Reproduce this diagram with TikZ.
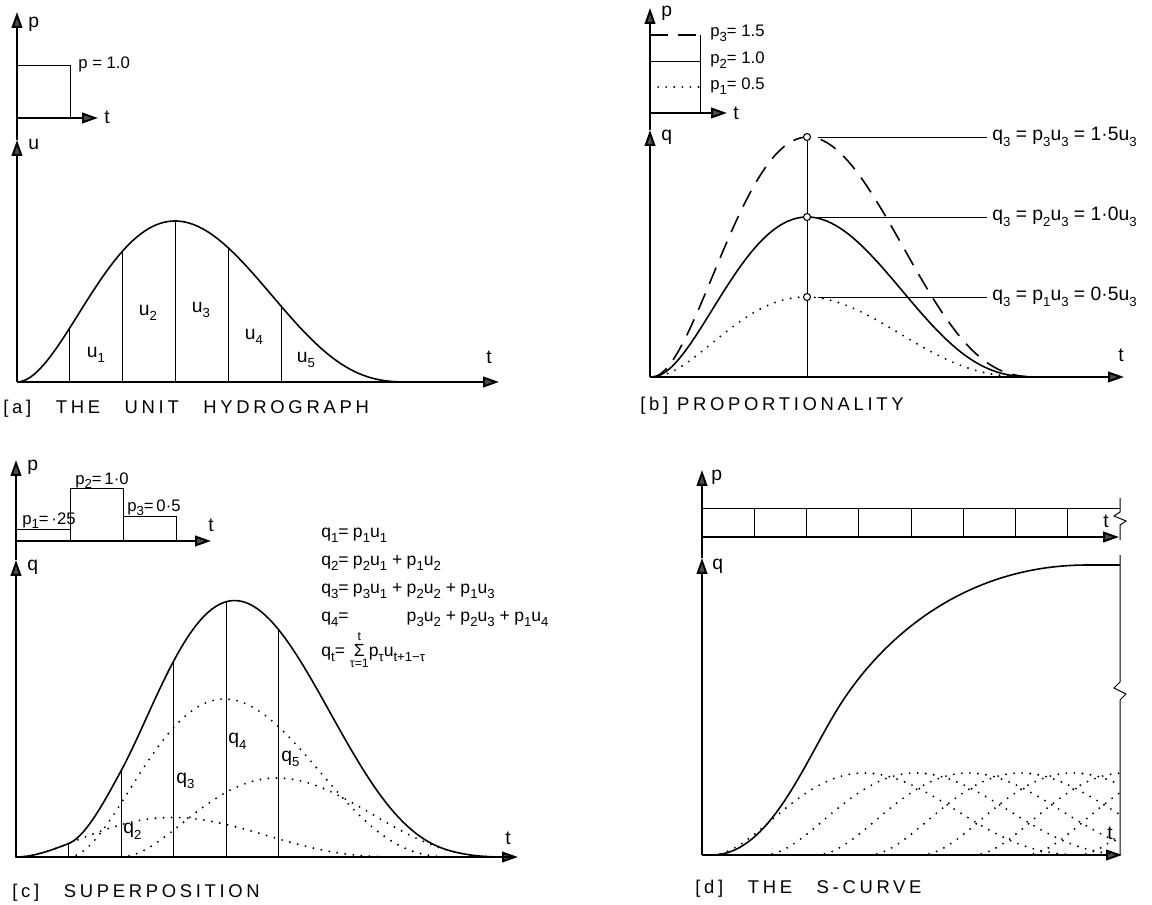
\documentclass[tikz,border=0pt]{standalone}
\usepackage{fontspec}
\setmainfont{Liberation Sans}
\usetikzlibrary{arrows.meta}
\newcommand{\lo}[1]{\raisebox{-0.55ex}{\fontsize{7.5}{8}\selectfont #1}}
\newcommand{\limtxt}[1]{\hbox{\fontsize{7}{8}\selectfont #1}}

\begin{document}
\begin{tikzpicture}[
			x=0.02cm, y=-0.02cm,
			declare function={
				cl(\s)=min(max(\s,0),1);
				uh(\s)=(cl(\s)/0.4)^2*((1-cl(\s))/0.6)^3;
				qc(\x)=0.25*uh((\x-16)/390)+uh((\x-68.5)/390)+0.5*uh((\x-121)/390);
			},
			axisline/.style={line width=1.1pt, -{Triangle[length=9pt, width=6pt, fill=black!70]}},
			hydro/.style={line width=0.9pt},
			ordinate/.style={line width=0.55pt},
			dotcurve/.style={line width=1.2pt, line cap=round, dash pattern=on 0pt off 4.6pt},
			dashcurve/.style={line width=0.9pt, dash pattern=on 10pt off 6pt},
			lab/.style={font=\fontsize{11}{13}\selectfont, inner sep=0pt},
			labsm/.style={font=\fontsize{9.5}{11}\selectfont, inner sep=0pt},
			eqn/.style={font=\fontsize{10}{12}\selectfont, inner sep=0pt, anchor=base west},
			captxt/.style={font=\fontsize{10.5}{12}\selectfont\addfontfeature{LetterSpace=20}, anchor=base west, inner sep=0pt},
			peakdot/.style={circle, draw, fill=white, line width=0.6pt, inner sep=0pt, minimum size=4pt}
			]
			\useasboundingbox (0,0) rectangle (1152,905);
			
			% (a) unit hydrograph
			\coordinate (a-o) at (17,382);
			\coordinate (a-u) at (17,140);
			\coordinate (a-p) at (17,12);
			\coordinate (a-po) at (17,118);
			\coordinate (a-pt) at (98,118);
			\coordinate (a-t) at (499,382);
			\draw[ordinate] (17,65) -| (70,118);
			\draw[axisline] (a-o) -- (a-u);
			\draw[axisline] (a-u) -- (a-p);
			\draw[axisline] (a-po) -- (a-pt);
			\draw[axisline] (a-o) -- (a-t);
			\node[lab, anchor=west] (a-plab) at (28,24) {p};
			\node[lab, anchor=west] (a-ulab) at (28,144) {u};
			\node[lab, anchor=west] (a-tlab) at (104,117) {t};
			\node[labsm, anchor=west] (a-pval) at (78,64) {p = 1.0};
			\node[lab] (a-tend) at (489,357) {t};
			\draw[hydro] plot[domain=0:1, samples=90] ({17+395*\x},{382-161*uh(\x)});
			\foreach \k in {1,...,5}
				\draw[ordinate] ({16+53*\k},382) -- ({16+53*\k},{382-161*uh((53*\k-1)/395)});
			\node[lab] (a-u1) at (96,355) {u\lo{1}};
			\node[lab] (a-u2) at (148,313) {u\lo{2}};
			\node[lab] (a-u3) at (201,310) {u\lo{3}};
			\node[lab] (a-u4) at (254,337) {u\lo{4}};
			\node[lab] (a-u5) at (306,360) {u\lo{5}};
			\node[captxt] (a-cap) at (3,413) {[a]\hspace{14pt}THE\hspace{14pt}UNIT\hspace{14pt}HYDROGRAPH};
			
			% (b) proportionality
			\coordinate (b-o) at (650,377);
			\coordinate (b-q) at (650,130);
			\coordinate (b-p) at (650,8);
			\coordinate (b-po) at (650,113);
			\coordinate (b-pt) at (727,113);
			\coordinate (b-t) at (1124,377);
			\coordinate (b-v) at (807,377);
			\draw[dashcurve] (650,35) -- (700,35);
			\draw[ordinate] (650,61) -- (700,61);
			\draw[dotcurve] (650,87) -- (700,87);
			\draw[ordinate] (700,35) -- (700,113);
			\draw[axisline] (b-o) -- (b-q);
			\draw[axisline] (b-q) -- (b-p);
			\draw[axisline] (b-po) -- (b-pt);
			\draw[axisline] (b-o) -- (b-t);
			\node[lab, anchor=west] (b-plab) at (661,13) {p};
			\node[lab, anchor=west] (b-qlab) at (661,137) {q};
			\node[lab, anchor=west] (b-tlab) at (733,113) {t};
			\node[lab] (b-tend) at (1121,355) {t};
			\node[labsm, anchor=west] (b-p3) at (710,33) {p\lo{3}= 1.5};
			\node[labsm, anchor=west] (b-p2) at (710,60) {p\lo{2}= 1.0};
			\node[labsm, anchor=west] (b-p1) at (710,86) {p\lo{1}= 0.5};
			\draw[dashcurve] plot[domain=0:1, samples=90] ({652+390*\x},{377-240*uh(\x)});
			\draw[hydro] plot[domain=0:1, samples=90] ({652+388*\x},{377-160*uh(\x)});
			\draw[dotcurve] plot[domain=0:1, samples=90] ({652+385*\x},{377-80*uh(\x)});
			\node[peakdot] (b-m3) at (807,137) {};
			\draw[ordinate] (b-v) -- (b-m3);
			\node[peakdot] (b-m2) at (807,217) {};
			\node[peakdot] (b-m1) at (807,297) {};
			\node[lab, anchor=west] (b-l3) at (992,137) {q\lo{3} = p\lo{3}u\lo{3} = 1·5u\lo{3}};
			\node[lab, anchor=west] (b-l2) at (992,217) {q\lo{3} = p\lo{2}u\lo{3} = 1·0u\lo{3}};
			\node[lab, anchor=west] (b-l1) at (992,297) {q\lo{3} = p\lo{1}u\lo{3} = 0·5u\lo{3}};
			\draw[ordinate, shorten <=4pt, shorten >=3pt] (b-m3) -- (b-l3.west);
			\draw[ordinate, shorten <=4pt, shorten >=3pt] (b-m2) -- (b-l2.west);
			\draw[ordinate, shorten <=4pt, shorten >=3pt] (b-m1) -- (b-l1.west);
			\node[captxt] (b-cap) at (640,410) {[b] PROPORTIONALITY};
			
			% (c) superposition
			\coordinate (c-o) at (16,857);
			\coordinate (c-q) at (16,560);
			\coordinate (c-p) at (16,460);
			\coordinate (c-po) at (16,541);
			\coordinate (c-pt) at (211,541);
			\coordinate (c-t) at (518,857);
			\draw[ordinate] (16,529) -- (70,529);
			\draw[ordinate] (70,541) |- (123,488) -- (123,541);
			\draw[ordinate] (123,516) -| (176,541);
			\draw[axisline] (c-o) -- (c-q);
			\draw[axisline] (c-q) -- (c-p);
			\draw[axisline] (c-po) -- (c-pt);
			\draw[axisline] (c-o) -- (c-t);
			\node[lab, anchor=west] (c-plab) at (27,467) {p};
			\node[lab, anchor=west] (c-qlab) at (27,567) {q};
			\node[lab, anchor=west] (c-tlab) at (208,525) {t};
			\node[lab] (c-tend) at (508,838) {t};
			\node[labsm, anchor=base west] (c-p1) at (22,524) {p\lo{1}=\,·25};
			\node[labsm, anchor=base west] (c-p2) at (75,484) {p\lo{2}=\,1·0};
			\node[labsm, anchor=base west] (c-p3) at (127,511) {p\lo{3}=\,0·5};
			\draw[dotcurve] plot[domain=16:406, samples=70] (\x,{857-39.5*uh((\x-16)/390)});
			\draw[dotcurve] plot[domain=68.5:458.5, samples=70] (\x,{857-158*uh((\x-68.5)/390)});
			\draw[dotcurve] plot[domain=121:511, samples=70] (\x,{857-79*uh((\x-121)/390)});
			\draw[hydro] plot[domain=16:511, samples=120] (\x,{857-158*qc(\x)});
			\foreach \k in {1,...,5}
				\draw[ordinate] ({16+52.5*\k},857) -- ({16+52.5*\k},{857-158*qc(16+52.5*\k)});
			\node[lab, anchor=west] (c-q2) at (123,831) {q\lo{2}};
			\node[lab, anchor=west] (c-q3) at (176,781) {q\lo{3}};
			\node[lab, anchor=west] (c-q4) at (228,741) {q\lo{4}};
			\node[lab, anchor=west] (c-q5) at (281,759) {q\lo{5}};
			% equations
			\node[eqn] (c-e1) at (321,537) {\makebox[18pt][l]{q\lo{1}=}p\lo{1}u\lo{1}};
			\node[eqn] (c-e2) at (321,565) {\makebox[18pt][l]{q\lo{2}=}\makebox[30.6pt][l]{p\lo{2}u\lo{1} +}p\lo{1}u\lo{2}};
			\node[eqn] (c-e3) at (321,593) {\makebox[18pt][l]{q\lo{3}=}\makebox[30.6pt][l]{p\lo{3}u\lo{1} +}\makebox[30.6pt][l]{p\lo{2}u\lo{2} +}p\lo{1}u\lo{3}};
			\node[eqn] (c-e4) at (321,621) {\makebox[18pt][l]{q\lo{4}=}\makebox[30.6pt]{}\makebox[30.6pt][l]{p\lo{3}u\lo{2} +}\makebox[30.6pt][l]{p\lo{2}u\lo{3} +}p\lo{1}u\lo{4}};
			\node[eqn] (c-et) at (321,656) {q\lo{t}= $\mathop{\hbox{Σ}}\limits^{\limtxt{t}}_{\limtxt{τ=1}}$p\lo{τ}u\lo{t+1−τ}};
			\node[captxt] (c-cap) at (12,897) {[c]\hspace{14pt}SUPERPOSITION};
			
			% (d) the S-curve
			\coordinate (d-o) at (702,855);
			\coordinate (d-q) at (702,558);
			\coordinate (d-p) at (702,470);
			\coordinate (d-po) at (702,537);
			\coordinate (d-pt) at (1119,537);
			\coordinate (d-t) at (1122,855);
			\draw[ordinate] (702,508) -- (1120,508);
			\foreach \k in {1,...,7}
				\draw[ordinate] ({702+52.25*\k},508) -- ({702+52.25*\k},537);
			\draw[ordinate] (1120,498) -- (1120,512) -- (1114,516) -- (1126,521) -- (1120,525) -- (1120,540);
			\draw[ordinate] (1120,555) -- (1120,682) -- (1114,688) -- (1126,694) -- (1120,700) -- (1120,855);
			\draw[axisline] (d-o) -- (d-q);
			\draw[axisline] (d-q) -- (d-p);
			\draw[axisline] (d-po) -- (d-pt);
			\draw[axisline] (d-o) -- (d-t);
			\node[lab, anchor=west] (d-plab) at (711,477) {p};
			\node[lab, anchor=west] (d-qlab) at (712,566) {q};
			\node[lab] (d-tlab) at (1106,521) {t};
			\node[lab] (d-tend) at (1110,833) {t};
			\foreach \k in {0,...,7} {
				\pgfmathsetmacro{\xa}{712+52.25*\k}
				\pgfmathsetmacro{\xb}{min(\xa+380,1119)}
				\draw[dotcurve] plot[domain=\xa:\xb, samples=60] (\x,{855-82*uh((\x-\xa)/380)});
			}
			\draw[hydro] (712,855) .. controls (770,855) and (805,760) .. (840,705)
				.. controls (880,642) and (960,566) .. (1085,565) -- (1120,565);
			\node[captxt] (d-cap) at (695,893) {[d]\hspace{14pt}THE\hspace{14pt}S-CURVE};
			
		\end{tikzpicture}
\end{document}
